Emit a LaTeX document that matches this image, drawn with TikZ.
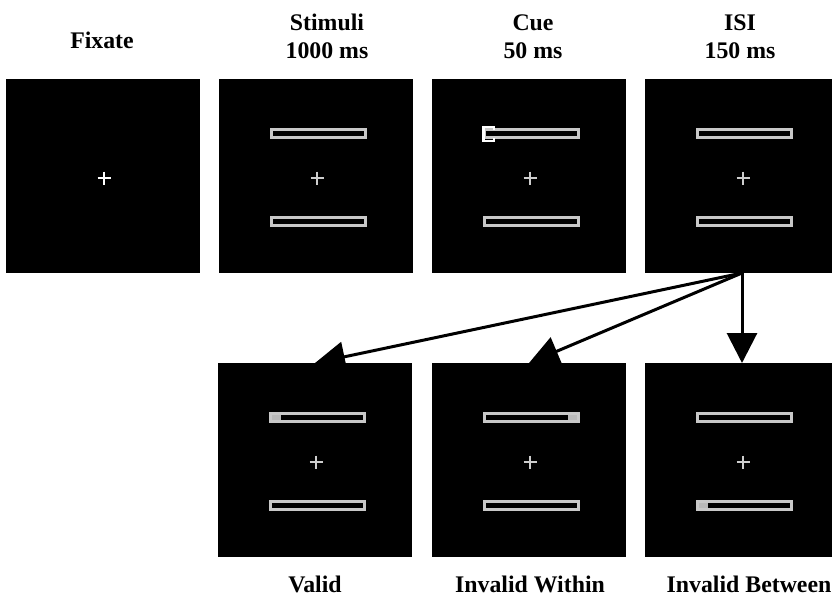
\documentclass[tikz,border=0pt]{standalone}
\usepackage{fontspec}
\setmainfont{Liberation Serif}
\usetikzlibrary{arrows.meta}
\definecolor{bargray}{RGB}{200,200,200}
\definecolor{cuegray}{RGB}{185,185,185}
\definecolor{crossgray}{RGB}{205,205,205}
\begin{document}
\begin{tikzpicture}[x=1pt,y=-1pt,
  panel/.style={fill=black, minimum width=194pt, minimum height=194pt, inner sep=0pt, outer sep=0pt, anchor=north west},
  barbox/.style={draw=bargray, line width=2.8pt},
  crossline/.style={line width=1.3pt, draw=#1},
  lab/.style={font=\bfseries\fontsize{23.8}{28}\selectfont, anchor=base, align=center, inner sep=0pt},
  arr/.style={line width=3pt, -{Triangle[width=30pt,length=30pt]}},
  pics/fixcross/.style={code={
    \draw[crossline=#1] (91.5,99) -- (104.5,99) (98,92.5) -- (98,105.5);
  }},
  pics/bars/.style={code={
    \draw[barbox] (52.5,50.5) rectangle (146.5,58.5);
    \draw[barbox] (52.5,138.5) rectangle (146.5,146.5);
    \pic {fixcross=crossgray};
  }},
  cuefill/.style={fill=cuegray},
  cuebracket/.style={draw=white, line width=2.8pt}
]
\useasboundingbox (0,0) rectangle (832,598);

% top row
\node[panel] (p1) at (6,79) {};
\node[panel] (p2) at (219,79) {};
\node[panel] (p3) at (432,79) {};
\node[panel] (p4) at (645,79) {};
% bottom row
\node[panel] (v) at (218,363) {};
\node[panel] (w) at (432,363) {};
\node[panel] (b) at (645,363) {};

% contents
\pic at (p1.north west) {fixcross=white};
\pic at (p2.north west) {bars};
\pic at (p3.north west) {bars};
\draw[cuebracket, shift={(p3.north west)}] (62,51) -- (62,48) -- (51.5,48) -- (51.5,62) -- (62,62) -- (62,59);
\pic at (p4.north west) {bars};

\fill[cuefill, shift={(v.north west)}] (51,49) rectangle (63,60);
\pic at (v.north west) {bars};
\fill[cuefill, shift={(w.north west)}] (136,49) rectangle (148,60);
\pic at (w.north west) {bars};
\fill[cuefill, shift={(b.north west)}] (51,137) rectangle (63,148);
\pic at (b.north west) {bars};

% arrows
\draw[arr] (p4.south) -- (v.north);
\draw[arr] (p4.south) -- (w.north);
\draw[arr] (p4.south) -- (b.north);

% labels
\node[lab] (t1) at (102,48) {Fixate};
\node[lab] (t2) at (327,58) {Stimuli\\1000 ms};
\node[lab] (t3) at (533,58) {Cue\\50 ms};
\node[lab] (t4) at (740,58) {ISI\\150 ms};
\node[lab] (l1) at (315,592) {Valid};
\node[lab] (l2) at (530,592) {Invalid Within};
\node[lab] (l3) at (749,592) {Invalid Between};
\end{tikzpicture}
\end{document}
